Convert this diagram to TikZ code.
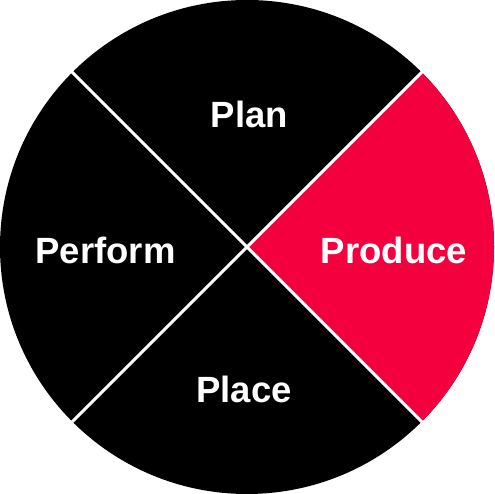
\documentclass[tikz,border=0pt]{standalone}
\usepackage{fontspec}
\setmainfont{Liberation Sans}
\definecolor{accent}{RGB}{245,0,63}
\begin{document}
\begin{tikzpicture}[x=1pt,y=1pt,
  lbl/.style={text=white,font=\fontsize{36.5}{40}\selectfont\bfseries,anchor=base},
  sep/.style={draw=white,line width=3pt}]
\useasboundingbox (0,0) rectangle (494,494);
\coordinate (c) at (247,247);
\fill[black] (c) circle (247);
\fill[accent] (c) -- ++(-45:247) arc (-45:45:247) -- cycle;
\draw[sep] (c) ++(45:250) -- ++(225:500);
\draw[sep] (c) ++(135:250) -- ++(315:500);
\node[lbl] (plan) at (249.5,366) {Plan};
\node[lbl] (produce) at (394,230.5) {Produce};
\node[lbl] (perform) at (105.5,230.5) {Perform};
\node[lbl] (place) at (244,91) {Place};
\end{tikzpicture}
\end{document}
